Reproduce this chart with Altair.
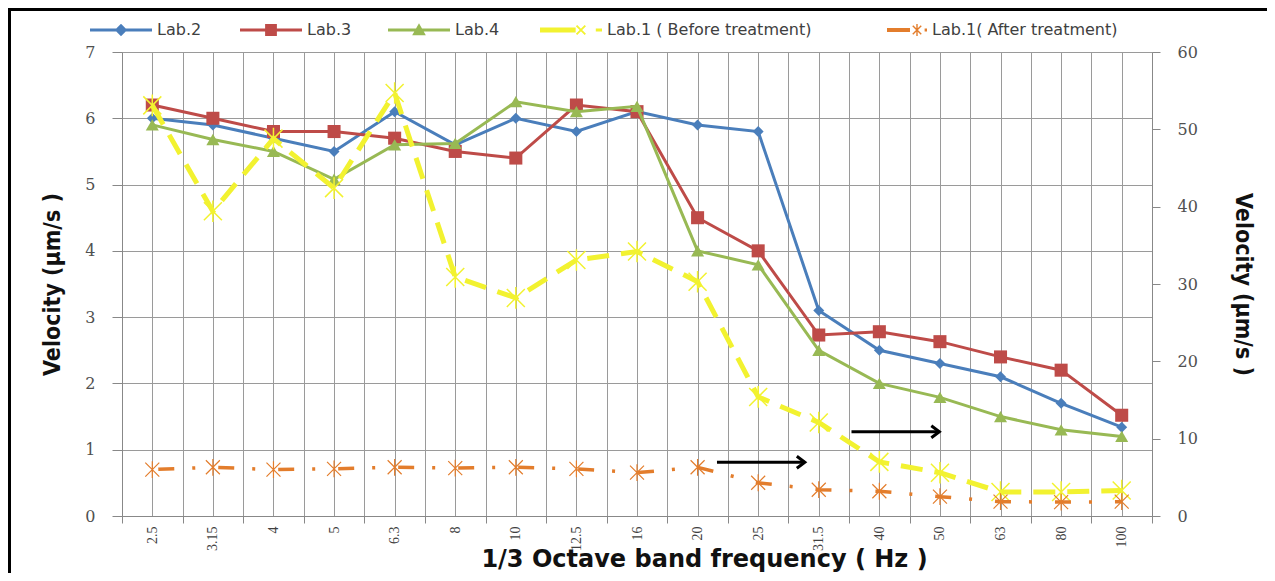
import math
import altair as alt
import pandas as pd

# ---------------- data ----------------
freqs = ["2.5", "3.15", "4", "5", "6.3", "8", "10", "12.5", "16", "20",
         "25", "31.5", "40", "50", "63", "80", "100"]
lab2 = [6.0, 5.9, 5.7, 5.5, 6.1, 5.6, 6.0, 5.8, 6.1, 5.9, 5.8, 3.1, 2.5, 2.3, 2.1, 1.7, 1.34]
lab3 = [6.2, 6.0, 5.8, 5.8, 5.7, 5.5, 5.4, 6.2, 6.1, 4.5, 4.0, 2.73, 2.78, 2.63, 2.4, 2.2, 1.52]
lab4 = [5.9, 5.68, 5.5, 5.08, 5.6, 5.62, 6.25, 6.1, 6.18, 4.0, 3.79, 2.5, 2.0, 1.79, 1.5, 1.3, 1.2]
# secondary axis (0-60)
lab1_before = [53.1, 39.4, 48.8, 42.4, 54.7, 30.9, 28.2, 33.1, 34.2, 30.3, 15.4, 12.1, 7.0, 5.6, 3.1, 3.1, 3.3]
lab1_after = [6.0, 6.3, 6.0, 6.1, 6.3, 6.2, 6.3, 6.1, 5.6, 6.3, 4.3, 3.4, 3.2, 2.5, 1.85, 1.8, 1.85]

# annotation arrows (band index units, left-axis units)
arrow_start = [9.32, 11.54]
arrow_end = [10.77, 12.99]
arrow_level = [0.81, 1.27]

series_names = ["Lab.2", "Lab.3", "Lab.4", "Lab.1 ( Before treatment)", "Lab.1( After treatment)"]
colors = ["#4A7EBB", "#BE4B48", "#98B954", "#F2F230", "#E37D2C"]

# ---------------- helpers for symbol paths ----------------
def fmt(v):
    return f"{v:.3f}"

def rect_path(cx, cy, half_len, half_w, angle_deg=0.0):
    a = math.radians(angle_deg)
    ca, sa = math.cos(a), math.sin(a)
    pts = []
    for dx, dy in [(-half_len, -half_w), (half_len, -half_w), (half_len, half_w), (-half_len, half_w)]:
        pts.append((cx + dx * ca - dy * sa, cy + dx * sa + dy * ca))
    return "M" + "L".join(f"{fmt(x)},{fmt(y)}" for x, y in pts) + "Z"

def hline(x0, x1, hh):
    return rect_path((x0 + x1) / 2, 0, (x1 - x0) / 2, hh)

star_mark = "M-1,-1L1,1M-1,1L1,-1M0,-1.2L0,1.2"
chevron = "M-1,-0.75L0,0L-1,0.75"

leg_paths = [
    hline(-1, 1, 0.052) + "M0,-0.2L0.2,0L0,0.2L-0.2,0Z",
    hline(-1, 1, 0.052) + rect_path(0, 0, 0.19, 0.19),
    hline(-1, 1, 0.052) + "M0,-0.22L0.22,0.17L-0.22,0.17Z",
    hline(-1, 0.15, 0.08) + rect_path(0.32, 0, 0.2, 0.03, 45) + rect_path(0.32, 0, 0.2, 0.03, -45)
    + hline(0.8, 1.0, 0.05),
    hline(-1, 0.15, 0.1) + rect_path(0.5, 0, 0.3, 0.035, 45) + rect_path(0.5, 0, 0.3, 0.035, -45)
    + rect_path(0.5, 0, 0.3, 0.035, 90) + hline(0.88, 1.0, 0.08),
]
leg_width = [62, 62, 62, 62, 40]
leg_x = [-32, 118, 266, 418, 765]
leg_y = [-53, -53, -53, -53, -42]

# ---------------- axes / scales ----------------
label_array = "[" + ",".join(f"'{f}'" for f in freqs) + "]"
n = len(freqs)
x_scale = alt.Scale(domain=[-0.5, n - 0.5], nice=False, zero=False)
x_axis = alt.Axis(
    values=[i * 0.5 - 0.5 for i in range(2 * n + 1)],
    labelExpr=f"datum.value % 1 == 0 ? {label_array}[datum.value] : ''",
    labelAngle=-90, labelAlign="right", labelBaseline="middle",
    labelFont="Liberation Serif", labelFontSize=14, labelColor="#404040",
    labelPadding=3, labelOverlap=False, labelFlush=False,
    tickSize=7, tickColor="#888888",
    tickOpacity=alt.condition("datum.value % 1 != 0", alt.value(1), alt.value(0)),
    grid=True, gridColor="#9a9a9a", gridWidth=1,
    domainColor="#888888", domainWidth=1,
    title="1/3 Octave band frequency ( Hz )", titleFont="DejaVu Sans",
    titleFontWeight="bold", titleFontSize=24, titleColor="#111111",
    titleX=582, titleY=50, titleAlign="center", titleBaseline="alphabetic",
)

def xenc(field):
    return alt.X(f"{field}:Q", scale=x_scale, axis=x_axis)

left_axis = alt.Axis(
    orient="left", values=list(range(8)), grid=True, gridColor="#9a9a9a", gridWidth=1,
    tickSize=10, tickColor="#888888", domainColor="#888888",
    labelFont="DejaVu Serif", labelFontSize=16, labelColor="#505050", labelPadding=17,
    title="Velocity (μm/s )", titleFont="DejaVu Sans Condensed", titleFontSize=23,
    titleFontWeight="bold", titleColor="#111111", titleAngle=-90,
    titleX=-70, titleY=232, titleAlign="center", titleBaseline="middle",
)
right_axis = alt.Axis(
    orient="right", values=list(range(0, 61, 10)), grid=False,
    tickSize=8, tickColor="#888888", domainColor="#888888",
    labelFont="DejaVu Serif", labelFontSize=16, labelColor="#505050", labelPadding=17,
    title="Velocity (μm/s )", titleFont="DejaVu Sans Condensed", titleFontSize=23,
    titleFontWeight="bold", titleColor="#111111", titleAngle=90,
    titleX=90, titleY=232, titleAlign="center", titleBaseline="middle",
)
y_left = alt.Y("v:Q", scale=alt.Scale(domain=[0, 7], nice=False), axis=left_axis)
y_right = alt.Y("v:Q", scale=alt.Scale(domain=[0, 60], nice=False), axis=right_axis)

def frame(vals):
    return pd.DataFrame({"idx": list(range(n)), "v": vals})

# ---------------- left (primary) group ----------------
left_layers = []
for vals, col, shp, size in [(lab2, colors[0], "diamond", 120),
                             (lab3, colors[1], "square", 170),
                             (lab4, colors[2], "triangle-up", 170)]:
    df = frame(vals)
    left_layers.append(alt.Chart(df).mark_line(color=col, strokeWidth=3).encode(x=xenc("idx"), y=y_left))
    left_layers.append(alt.Chart(df).mark_point(shape=shp, filled=True, color=col, size=size, opacity=1)
                       .encode(x=xenc("idx"), y=y_left))

arrows = pd.DataFrame({"idx": arrow_start, "idx2": arrow_end, "v": arrow_level})
left_layers.append(alt.Chart(arrows).mark_rule(color="black", strokeWidth=3)
                   .encode(x=xenc("idx"), x2=alt.X2("idx2:Q"), y=y_left))
left_layers.append(alt.Chart(arrows).mark_point(shape=chevron, filled=False, color="black",
                                                 strokeWidth=3, size=256, opacity=1)
                   .encode(x=xenc("idx2"), y=y_left))
left = alt.layer(*left_layers)

# ---------------- right (secondary) group ----------------
dfb = frame(lab1_before)
dfa = frame(lab1_after)
right = alt.layer(
    alt.Chart(dfb).mark_line(color=colors[3], strokeWidth=5, strokeDash=[22, 12]).encode(x=xenc("idx"), y=y_right),
    alt.Chart(dfb).mark_point(shape=star_mark, filled=False, color=colors[3], size=324, strokeWidth=1.5, opacity=1)
    .encode(x=xenc("idx"), y=y_right),
    alt.Chart(dfa).mark_line(color=colors[4], strokeWidth=3.5, strokeDash=[16, 18, 3, 23], strokeDashOffset=54)
    .encode(x=xenc("idx"), y=y_right),
    alt.Chart(dfa).mark_point(shape=star_mark, filled=False, color=colors[4], size=196, strokeWidth=1.2, opacity=1)
    .encode(x=xenc("idx"), y=y_right),
)

# ---------------- legends (one per series) ----------------
legend_layers = []
for i, name in enumerate(series_names):
    w = leg_width[i]
    leg = alt.Legend(orient="none", legendX=leg_x[i], legendY=leg_y[i], title=None,
                     symbolSize=w * w, symbolStrokeWidth=0, symbolOpacity=1,
                     labelFont="DejaVu Sans", labelFontSize=16, labelColor="#404040",
                     labelOffset=5, labelLimit=500, padding=0)
    ldf = pd.DataFrame({"series": [name], "idx": [None]})
    legend_layers.append(
        alt.Chart(ldf).mark_point(filled=True, opacity=1).encode(
            x=xenc("idx"),
            color=alt.Color("series:N", scale=alt.Scale(domain=[name], range=[colors[i]]), legend=leg),
            shape=alt.Shape("series:N", scale=alt.Scale(domain=[name], range=[leg_paths[i]]), legend=leg),
        )
    )

# ---------------- outer frame lines ----------------
one = alt.Data(values=[{"k": 1}])
frame_top = alt.Chart(one).mark_rule(color="black", strokeWidth=3).encode(
    x=alt.value(-114), x2=alt.value(1145), y=alt.value(-42.5))
frame_left = alt.Chart(one).mark_rule(color="black", strokeWidth=3).encode(
    x=alt.value(-112.5), y=alt.value(-44), y2=alt.value(521))

chart = (
    alt.layer(left, right, *legend_layers, frame_top, frame_left)
    .resolve_scale(y="independent", color="independent", shape="independent")
    .properties(width=1030, height=464,
                autosize=alt.AutoSizeParams(type="none"),
                padding={"left": 114, "top": 44, "right": 115, "bottom": 57},
                background="white")
    .configure_view(stroke=None)
)

chart.save("out.html", embed_options={"renderer": "svg", "actions": False})
